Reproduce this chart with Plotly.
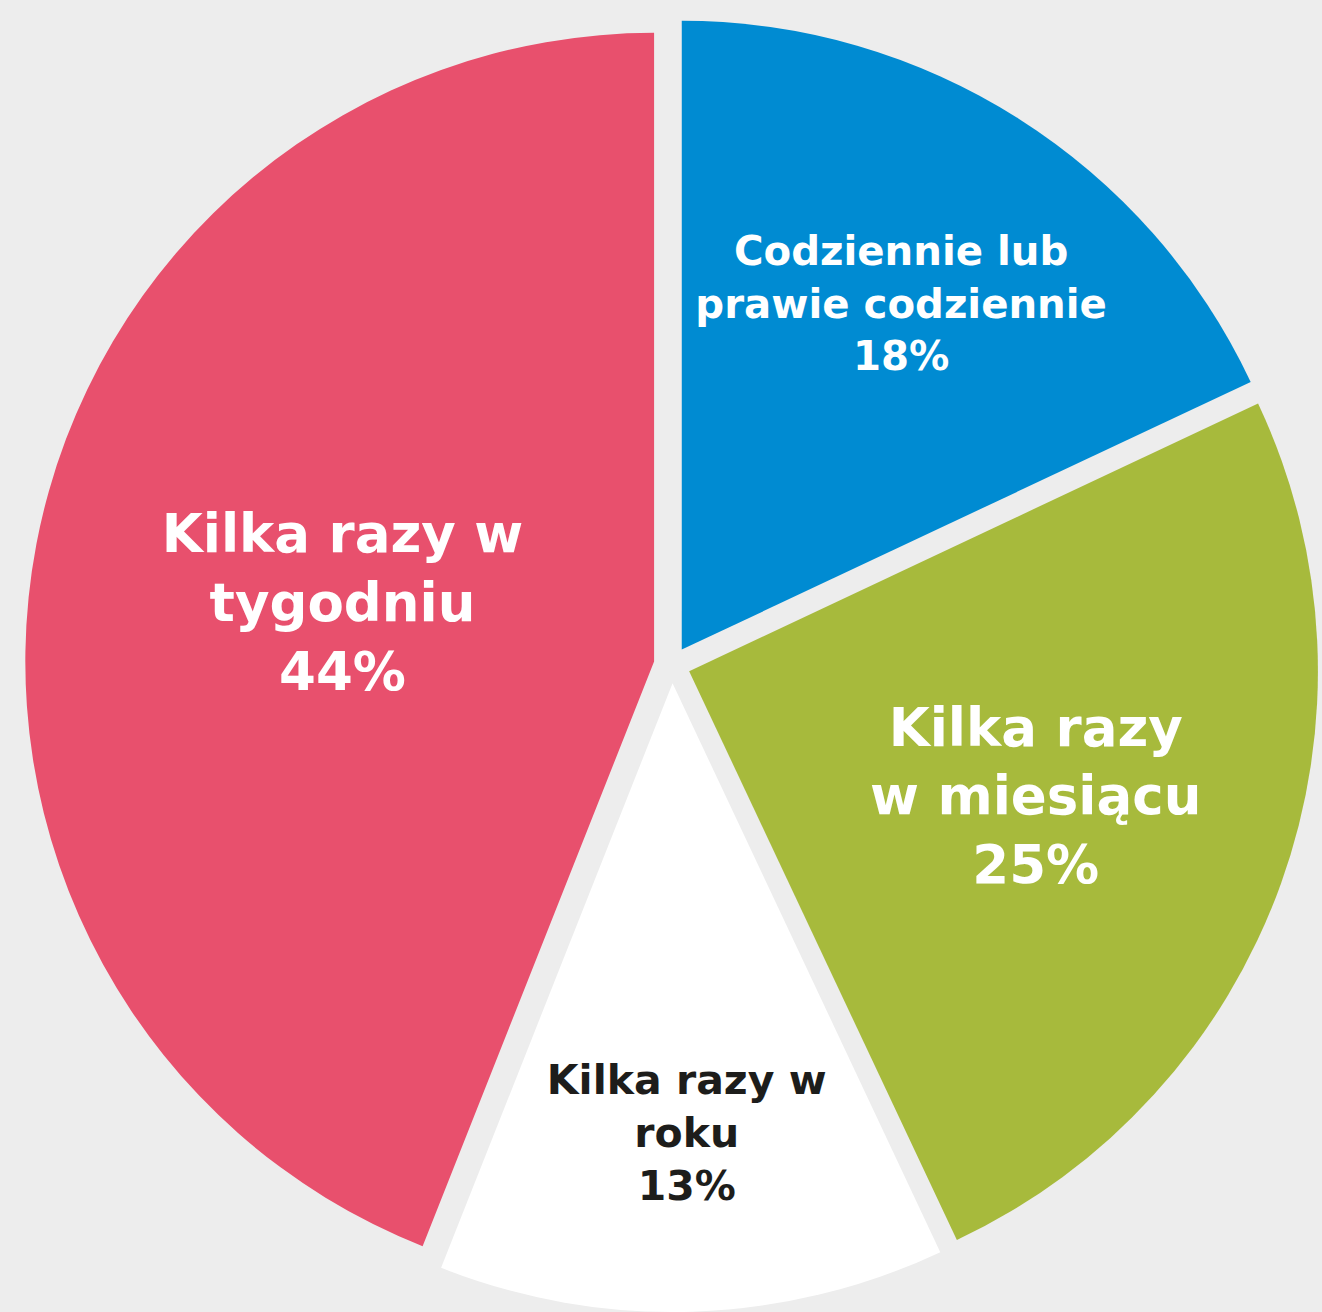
import plotly.graph_objects as go

categories = [
    "Codziennie lub<br>prawie codziennie",
    "Kilka razy<br>w miesiącu",
    "Kilka razy w<br>roku",
    "Kilka razy w<br>tygodniu",
]
values = [18, 25, 13, 44]
colors = ["#008BD2", "#A7BA3C", "#FFFFFF", "#E8506D"]
text_colors = ["#FFFFFF", "#FFFFFF", "#1D1D1B", "#FFFFFF"]
text_sizes = [41, 53, 41, 53]

W, H = 1322, 1312
BG = "#EDEDED"

fig = go.Figure(
    go.Pie(
        labels=categories,
        values=values,
        sort=False,
        direction="clockwise",
        rotation=0,
        pull=0.029,
        marker=dict(colors=colors, line=dict(width=0)),
        texttemplate="%{label}<br>%{value}%",
        textposition="inside",
        insidetextorientation="horizontal",
        textfont=dict(family="DejaVu Sans", size=text_sizes, color=text_colors, weight=700),
        hoverinfo="skip",
        showlegend=False,
        domain=dict(x=[25 / W, 1319 / W], y=[0, 1294 / H]),
    )
)

fig.update_layout(
    width=W,
    height=H,
    margin=dict(l=0, r=0, t=0, b=0),
    paper_bgcolor=BG,
    plot_bgcolor=BG,
    showlegend=False,
)

fig.write_html("out.html")
